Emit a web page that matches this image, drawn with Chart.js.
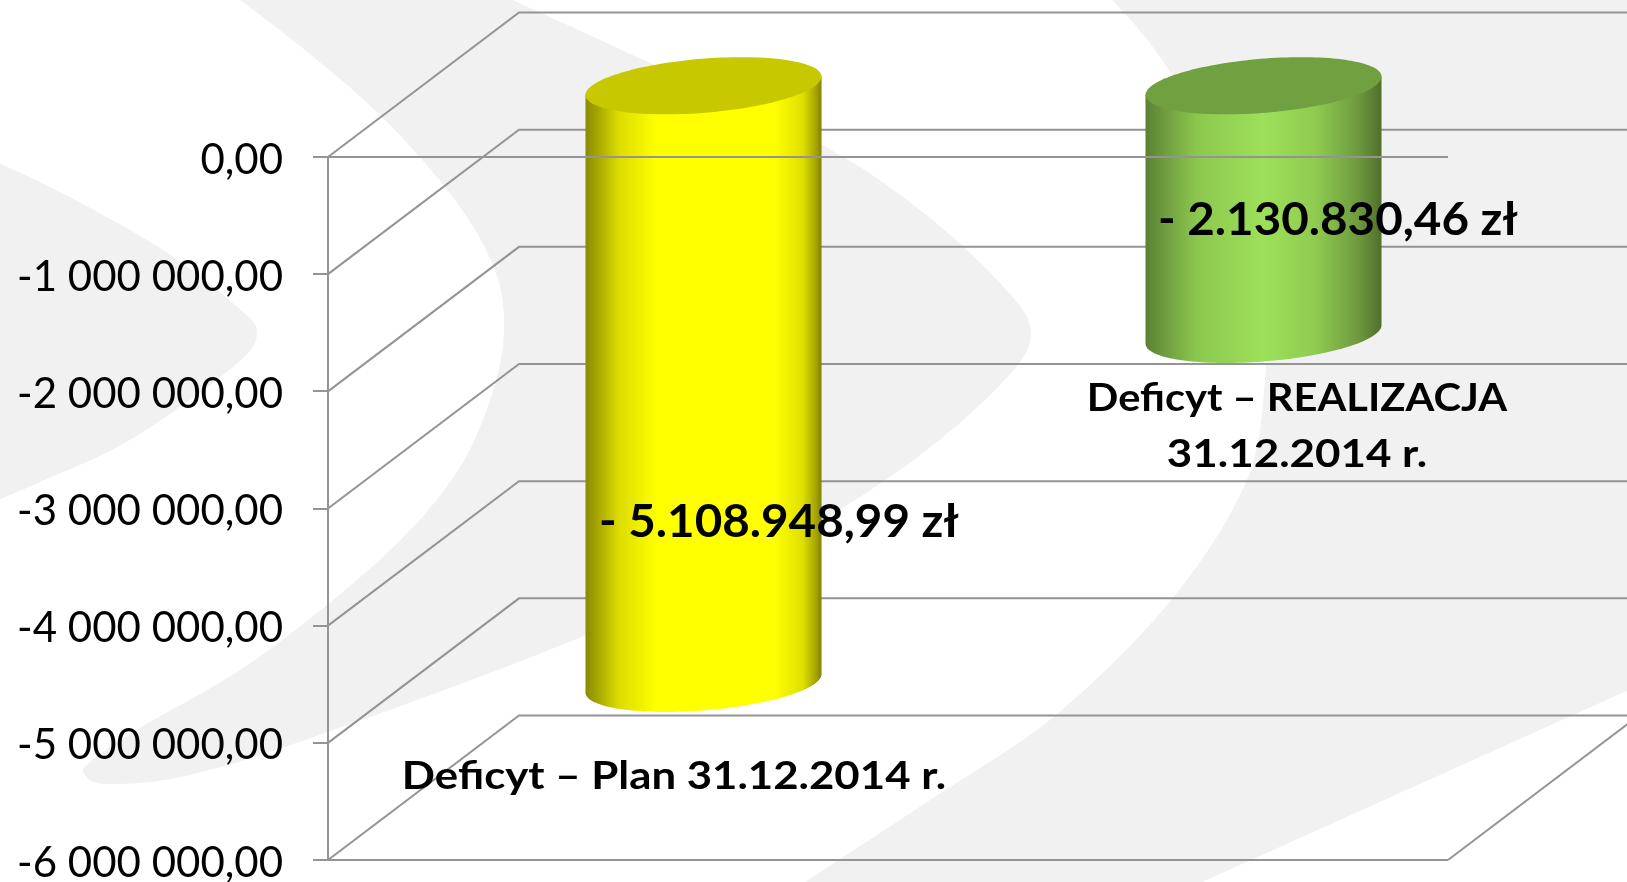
<!DOCTYPE html>
<html><head><meta charset="utf-8">
<style>html,body{margin:0;padding:0;background:#fff;overflow:hidden}canvas{display:block}</style>
<script src="https://cdn.jsdelivr.net/npm/chart.js@4/dist/chart.umd.min.js"></script>
</head><body><canvas id="c" width="1627" height="882"></canvas>
<script>
const categories = ['Deficyt – Plan 31.12.2014 r.', 'Deficyt – REALIZACJA 31.12.2014 r.'];
const deficit = [-5108948.99, -2130830.46];
const valueLabels = ['- 5.108.948,99 zł', '- 2.130.830,46 zł'];
const tickLabels = ['0,00','-1 000 000,00','-2 000 000,00','-3 000 000,00','-4 000 000,00','-5 000 000,00','-6 000 000,00'];
const barColors = ['#ffff00', '#9de05a'];
const sideStops = [
  [[0,'#8a8a00'],[0.05,'#a5a500'],[0.14,'#dcdc00'],[0.3,'#ffff00'],[0.8,'#ffff00'],[0.92,'#e0e000'],[0.98,'#a0a000'],[1,'#808000']],
  [[0,'#5a8033'],[0.08,'#6f9c3f'],[0.22,'#8cc84e'],[0.5,'#9de05a'],[0.72,'#8fcb50'],[0.9,'#6f9a3f'],[1,'#506f2b']]
];
const topColors = ['#c8c800', '#70a040'];
const GRID = '#949494', BAND = '#f0f1f0';
const DX = 191, DY = -144.5;

function curve(ctx, pts, start){
  if(start) ctx.moveTo(pts[0][0], pts[0][1]); else ctx.lineTo(pts[0][0], pts[0][1]);
  for (let i=0;i<pts.length-1;i++){
    const p0=pts[Math.max(i-1,0)],p1=pts[i],p2=pts[i+1],p3=pts[Math.min(i+2,pts.length-1)];
    ctx.bezierCurveTo(p1[0]+(p2[0]-p0[0])/6,p1[1]+(p2[1]-p0[1])/6,p2[0]-(p3[0]-p1[0])/6,p2[1]-(p3[1]-p1[1])/6,p2[0],p2[1]);
  }
}
const background = { id:'background', beforeDraw(chart){
  const ctx=chart.ctx; ctx.save(); ctx.fillStyle='#fff'; ctx.fillRect(0,0,1627,882); ctx.fillStyle=BAND;
  ctx.beginPath(); curve(ctx,[[-30,150],[60,192],[163,250],[235,305],[257,333],[233,367],[130,440],[40,482],[-30,512]],true); ctx.closePath(); ctx.fill();
  ctx.beginPath();
  curve(ctx,[[220,-15],[305,50],[385,120],[455,200],[495,270],[504,333],[490,400],[455,475],[383,557],[255,660],[140,728],[90,762],[85,775],[108,784],[190,775],[328,732],[574,640],[760,555],[900,470],[1000,385],[1031,333],[1000,283],[920,210],[822,145],[650,63],[480,-15]],true);
  ctx.closePath(); ctx.fill();
  ctx.beginPath();
  curve(ctx,[[1098,-15],[1160,57],[1230,180],[1262,300],[1265,380],[1246,482],[1172,599],[1056,715],[930,800],[790,892]],true);
  ctx.lineTo(1180,892); ctx.lineTo(1660,676); ctx.lineTo(1660,-15); ctx.closePath(); ctx.fill();
  ctx.restore();
}};
const walls = { id:'walls', beforeDatasetsDraw(chart){
  const ctx=chart.ctx, y=chart.scales.y, a=chart.chartArea;
  ctx.save(); ctx.strokeStyle=GRID; ctx.lineWidth=2;
  y.ticks.forEach(t=>{ const py=y.getPixelForValue(t.value);
    ctx.beginPath(); ctx.moveTo(a.left,py); ctx.lineTo(a.left+DX,py+DY); ctx.lineTo(1640,py+DY); ctx.stroke(); });
  ctx.beginPath(); ctx.moveTo(a.right,a.bottom); ctx.lineTo(a.right+DX,a.bottom+DY); ctx.stroke();
  ctx.restore();
}};
const cylinders = { id:'cylinders', beforeDatasetDraw(chart,args){
  const ctx=chart.ctx, meta=chart.getDatasetMeta(args.index);
  meta.data.forEach((bar,i)=>{
    const hw=bar.width/2, cx=bar.x+DX/2, yTop=bar.base+DY/2, yBot=bar.y+DY/2;
    const ry=28.6, ex=ry*DX/-DY, rx=Math.sqrt(hw*hw-ex*ex), t1=Math.atan2(ex,rx);
    const P=(y,t)=>[cx+rx*Math.cos(t)+ex*Math.sin(t), y-ry*Math.sin(t)];
    const g=ctx.createLinearGradient(cx-hw,0,cx+hw,0);
    sideStops[i].forEach(s=>g.addColorStop(s[0],s[1]));
    ctx.save();
    ctx.beginPath(); let p=P(yTop,Math.PI+t1); ctx.moveTo(p[0],p[1]);
    for(let k=0;k<=72;k++){ p=P(yBot,Math.PI+t1+k/72*Math.PI); ctx.lineTo(p[0],p[1]); }
    p=P(yTop,t1); ctx.lineTo(p[0],p[1]); ctx.closePath();
    ctx.fillStyle=g; ctx.fill();
    ctx.beginPath();
    for(let k=0;k<=144;k++){ p=P(yTop,k/144*2*Math.PI); k?ctx.lineTo(p[0],p[1]):ctx.moveTo(p[0],p[1]); }
    ctx.closePath(); ctx.fillStyle=topColors[i]; ctx.fill();
    ctx.restore();
  });
  return false;
}};
function stretched(ctx,str,x,y,sx){ ctx.save(); ctx.translate(x,y); ctx.scale(sx,1); ctx.fillText(str,0,0); ctx.restore(); }
const annotations = { id:'annotations', afterDraw(chart){
  const ctx=chart.ctx; ctx.save(); ctx.fillStyle='#000'; ctx.textBaseline='alphabetic'; ctx.textAlign='center';
  ctx.font='bold 46px Lato, "Open Sans", sans-serif';
  stretched(ctx,valueLabels[0],779,537,1.033);
  stretched(ctx,valueLabels[1],1338,235,1.033);
  ctx.font='bold 39px Lato, "Open Sans", sans-serif';
  stretched(ctx,categories[0],674,789,1.122);
  stretched(ctx,'Deficyt – REALIZACJA',1297,411,1.066);
  stretched(ctx,'31.12.2014 r.',1297,467,1.126);
  ctx.restore();
}};
new Chart(document.getElementById('c'),{
  type:'bar',
  data:{labels:categories,datasets:[{data:deficit,backgroundColor:barColors,barPercentage:236/560,categoryPercentage:1}]},
  plugins:[background,walls,cylinders,annotations],
  options:{
    responsive:false,animation:false,
    layout:{padding:{top:157,right:179,left:0,bottom:0}},
    plugins:{legend:{display:false},title:{display:false},tooltip:{enabled:false}},
    scales:{
      x:{display:true,position:'bottom',grid:{display:false},border:{display:false},ticks:{display:false},
         afterFit(s){s.height=22;}},
      y:{min:-6000000,max:0,
         grid:{z:1,lineWidth:2,tickLength:15,tickColor:GRID,tickWidth:2,
               color:c=>(c.tick&&(c.tick.value===0||c.tick.value===-6000000))?GRID:'transparent'},
         border:{display:true,color:GRID,width:2,z:1},
         ticks:{stepSize:1000000,padding:31,color:'#000',font:{family:'Lato, "Open Sans", sans-serif',size:42},
                callback:v=>tickLabels[Math.round(-v/1000000)]},
         afterFit(s){
           s.width=328;s.paddingTop=0;s.paddingBottom=0;
           if(!s._labelsShifted){
             const draw=s.drawLabels;
             s.drawLabels=function(a){ s.ctx.save(); s.ctx.translate(1,3); draw.call(s,a); s.ctx.restore(); };
             s._labelsShifted=true;
           }
         }}
    }
  }
});
</script></body></html>
